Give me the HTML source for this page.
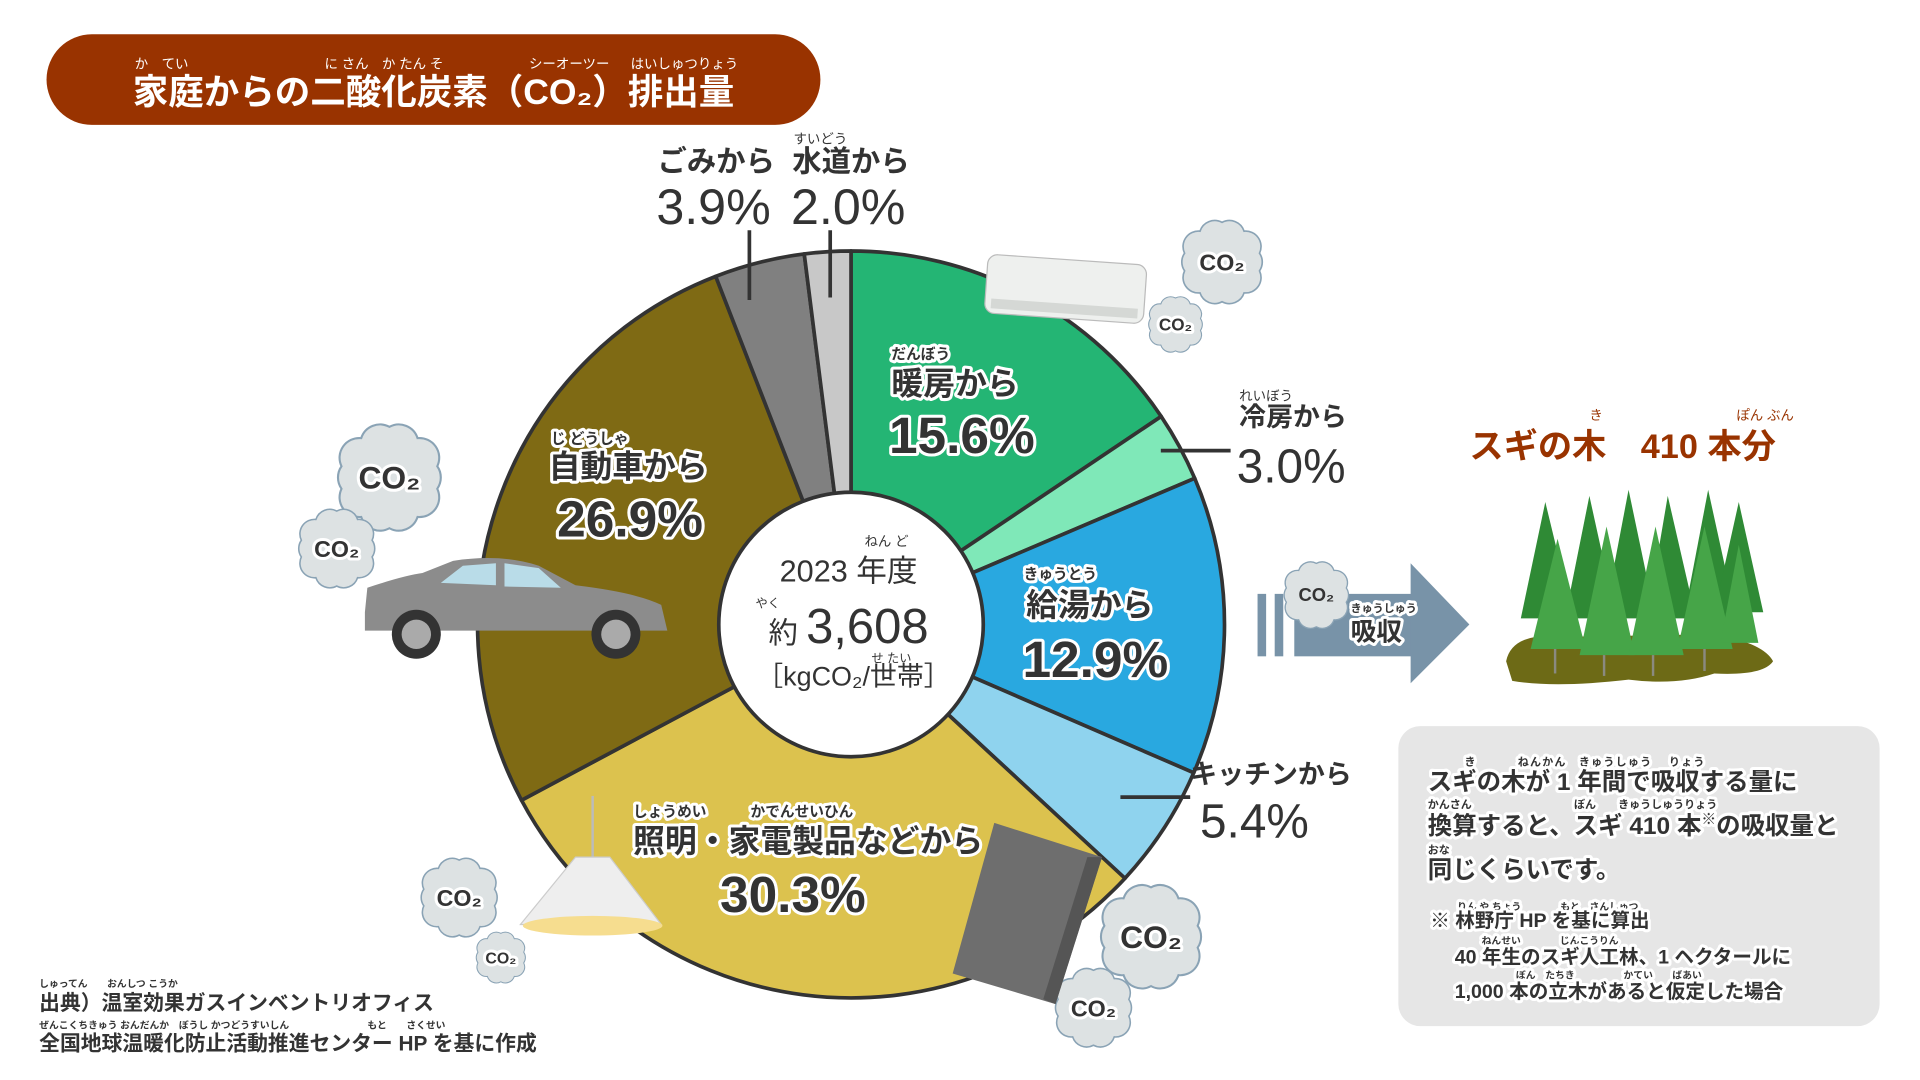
<!DOCTYPE html>
<html><head><meta charset="utf-8"><style>
html,body{margin:0;padding:0;background:#fff;}
svg{display:block;}
text{font-family:"Liberation Sans","Noto Sans CJK JP",sans-serif;}
.o{paint-order:stroke;stroke:#fff;stroke-width:5px;stroke-linejoin:round;}
</style></head><body>
<svg width="1920" height="1080" viewBox="0 0 1568 882" xmlns="http://www.w3.org/2000/svg">
<defs>
<g id="cl"><path d="M-20,-28 a14,14 0 0 1 20,-8 a14,14 0 0 1 20,8 a14,14 0 0 1 14,20 a14,14 0 0 1 0,16 a14,14 0 0 1 -14,20 a14,14 0 0 1 -20,8 a14,14 0 0 1 -20,-8 a14,14 0 0 1 -14,-20 a14,14 0 0 1 0,-16 a14,14 0 0 1 14,-20z" fill="#dde2e3" stroke="#8aa3b5" stroke-width="1.5"/></g>
</defs>
<!-- title -->
<rect x="38" y="28" width="632" height="74" rx="37" fill="#993300"/>
<g font-size="11" fill="#fff">
<text x="110" y="56">か　てい</text>
<text x="265" y="56">に さん　か たん そ</text>
<text x="432" y="56">シーオーツー</text>
<text x="515" y="56">はいしゅつりょう</text>
</g>
<text x="354" y="85" font-size="29" font-weight="bold" fill="#fff" text-anchor="middle">家庭からの二酸化炭素（CO₂）排出量</text>

<!-- pie -->
<g stroke="#333" stroke-width="3" stroke-linejoin="round">
<path d="M695,510 L695,205 A305,305 0 0 1 948.3,340.1Z" fill="#24b574"/>
<path d="M695,510 L948.3,340.1 A305,305 0 0 1 975.7,390.6Z" fill="#7fe8b8"/>
<path d="M695,510 L975.7,390.6 A305,305 0 0 1 974.9,631.1Z" fill="#29a8e0"/>
<path d="M695,510 L974.9,631.1 A305,305 0 0 1 918.7,717.3Z" fill="#8fd3ee"/>
<path d="M695,510 L918.7,717.3 A305,305 0 0 1 425.9,653.5Z" fill="#dcc24e"/>
<path d="M695,510 L425.9,653.5 A305,305 0 0 1 584.5,225.7Z" fill="#7f6a14"/>
<path d="M695,510 L584.5,225.7 A305,305 0 0 1 656.8,207.4Z" fill="#808080"/>
<path d="M695,510 L656.8,207.4 A305,305 0 0 1 695,205Z" fill="#c8c8c8"/>
<circle cx="695" cy="510" r="108" fill="#fff"/>
</g>

<!-- leader lines -->
<g stroke="#333" stroke-width="3">
<line x1="612" y1="188" x2="612" y2="245"/><line x1="678" y1="188" x2="678" y2="243"/>
<line x1="948" y1="368" x2="1005" y2="368"/><line x1="915" y1="651" x2="972" y2="651"/>
</g>

<!-- clouds -->
<g>
<use href="#cl" transform="translate(318,390) scale(1.15)"/>
<use href="#cl" transform="translate(275,448) scale(0.85)"/>
<use href="#cl" transform="translate(998,214) scale(0.9)"/>
<use href="#cl" transform="translate(960,265) scale(0.6)"/>
<use href="#cl" transform="translate(375,733) scale(0.85)"/>
<use href="#cl" transform="translate(409,782) scale(0.55)"/>
<use href="#cl" transform="translate(940,765) scale(1.12)"/>
<use href="#cl" transform="translate(893,823) scale(0.85)"/>
</g>
<g font-weight="bold" fill="#333" text-anchor="middle" class="o">
<text x="318" y="399" font-size="26">CO₂</text><text x="275" y="455" font-size="19">CO₂</text>
<text x="998" y="221" font-size="19">CO₂</text><text x="960" y="270" font-size="14">CO₂</text>
<text x="375" y="740" font-size="19">CO₂</text><text x="409" y="787" font-size="13">CO₂</text>
<text x="940" y="774" font-size="26">CO₂</text><text x="893" y="830" font-size="19">CO₂</text>
</g>

<!-- AC -->
<g transform="rotate(4 870 240)"><rect x="805" y="212" width="130" height="48" rx="8" fill="#eef0ee" stroke="#bbb"/><rect x="810" y="248" width="120" height="8" fill="#d5d8d5"/></g>
<!-- car -->
<path d="M298,500 L300,480 Q330,470 345,468 L370,458 Q410,452 440,462 L470,478 Q520,484 540,494 L545,515 L298,515Z" fill="#8c8c8c"/>
<path d="M360,476 L378,462 L405,460 L405,478Z M412,460 L440,464 L458,480 L412,479Z" fill="#b9dce8"/>
<circle cx="340" cy="518" r="20" fill="#333"/><circle cx="340" cy="518" r="12" fill="#aaa"/>
<circle cx="503" cy="518" r="20" fill="#333"/><circle cx="503" cy="518" r="12" fill="#aaa"/>
<!-- lamp -->
<line x1="484" y1="650" x2="484" y2="700" stroke="#bbb" stroke-width="2"/>
<path d="M470,700 L498,700 L540,755 L425,755Z" fill="#eee" stroke="#ccc"/>
<ellipse cx="484" cy="756" rx="57" ry="8" fill="#f6dd8f"/>
<!-- fridge -->
<path d="M812,672 L900,700 L862,820 L778,795Z" fill="#6e6e6e"/>
<path d="M900,700 L862,820 L852,816 L888,700Z" fill="#555"/>

<!-- labels -->
<g fill="#333">
<text x="537" y="140" font-size="24" font-weight="bold">ごみから</text>
<text x="648" y="117" font-size="11">すいどう</text>
<text x="647" y="140" font-size="24" font-weight="bold">水道から</text>
<text x="536" y="183" font-size="41">3.9%</text>
<text x="646" y="183" font-size="41">2.0%</text>
<text x="1012" y="327" font-size="11">れいぼう</text>
<text x="1012" y="348" font-size="22" font-weight="bold">冷房から</text>
<text x="1010" y="394" font-size="39">3.0%</text>
<text x="972" y="640" font-size="22" font-weight="bold">キッチンから</text>
<text x="980" y="684" font-size="39">5.4%</text>
</g>
<g fill="#333" font-weight="bold" class="o">
<text x="728" y="293" font-size="12">だんぼう</text>
<text x="728" y="322" font-size="26">暖房から</text>
<text x="726" y="370" font-size="42">15.6%</text>
<text x="836" y="473" font-size="12">きゅうとう</text>
<text x="838" y="503" font-size="26">給湯から</text>
<text x="835" y="553" font-size="42">12.9%</text>
<text x="450" y="362" font-size="12">じ どうしゃ</text>
<text x="448" y="390" font-size="26">自動車から</text>
<text x="455" y="438" font-size="42">26.9%</text>
<text x="517" y="667" font-size="12">しょうめい　　　かでんせいひん</text>
<text x="517" y="696" font-size="26">照明・家電製品などから</text>
<text x="588" y="745" font-size="42">30.3%</text>
</g>
<g fill="#333" text-anchor="middle">
<text x="724" y="446" font-size="11">ねん ど</text>
<text x="693" y="475" font-size="25">2023 年度</text>
<text x="627" y="496" font-size="10">やく</text>
<text x="693" y="525" font-size="40"><tspan font-size="24">約 </tspan>3,608</text>
<text x="728" y="541" font-size="10">せ たい</text>
<text x="697" y="560" font-size="22">［kgCO₂/世帯］</text>
</g>

<!-- arrow -->
<g fill="#7893a8">
<rect x="1027" y="485" width="7" height="51"/><rect x="1041" y="485" width="7" height="51"/>
<rect x="1057" y="485" width="98" height="51"/><path d="M1152,460 L1200,510 L1152,558Z"/>
</g>
<use href="#cl" transform="translate(1075,486) scale(0.72)"/>
<text x="1075" y="491" font-size="15" font-weight="bold" fill="#333" text-anchor="middle">CO₂</text>
<g fill="#333" font-weight="bold" class="o">
<text x="1103" y="500" font-size="9">きゅうしゅう</text>
<text x="1103" y="523" font-size="21">吸収</text>
</g>

<!-- trees -->
<path d="M1230,540 Q1235,515 1280,520 L1400,518 Q1440,525 1448,540 Q1440,552 1400,550 Q1370,560 1330,555 Q1270,562 1235,556Z" fill="#6d6a16"/>
<g fill="#2f8a35">
<path d="M1242,505 L1262,410 L1285,505Z"/><path d="M1278,505 L1298,405 L1320,505Z"/>
<path d="M1310,505 L1330,400 L1352,505Z"/><path d="M1345,505 L1362,405 L1385,505Z"/>
<path d="M1375,505 L1395,400 L1418,505Z"/><path d="M1400,500 L1420,410 L1440,500Z"/>
</g>
<g fill="#46a548">
<path d="M1250,530 L1272,440 L1295,530Z"/><path d="M1290,535 L1312,430 L1335,535Z"/>
<path d="M1330,535 L1352,430 L1375,535Z"/><path d="M1370,530 L1392,430 L1415,530Z"/>
<path d="M1405,525 L1420,445 L1436,525Z"/>
</g>
<g stroke="#8a8a80" stroke-width="2">
<line x1="1270" y1="530" x2="1270" y2="550"/><line x1="1310" y1="535" x2="1310" y2="552"/>
<line x1="1350" y1="535" x2="1350" y2="552"/><line x1="1392" y1="530" x2="1392" y2="548"/>
</g>
<text x="1298" y="343" font-size="11" fill="#993300">き</text>
<text x="1418" y="343" font-size="11" fill="#993300">ぽん ぶん</text>
<text x="1200" y="374" font-size="28" font-weight="bold" fill="#993300">スギの木　410 本分</text>

<!-- box -->
<rect x="1142" y="593" width="393" height="245" rx="18" fill="#e6e6e6"/>
<g fill="#333" font-weight="bold" class="o">
<text x="1166" y="625" font-size="9" letter-spacing="1">　　　き　　　 ねんかん　きゅうしゅう　 りょう</text>
<text x="1166" y="645" font-size="20">スギの木が 1 年間で吸収する量に</text>
<text x="1166" y="660" font-size="9">かんさん　　　　　　　　　 ぼん　　きゅうしゅうりょう</text>
<text x="1166" y="681" font-size="20">換算すると、スギ 410 本<tspan font-size="12" dy="-8">※</tspan><tspan dy="8">の吸収量と</tspan></text>
<text x="1166" y="697" font-size="9">おな</text>
<text x="1166" y="717" font-size="20">同じくらいです。</text>
<text x="1190" y="743" font-size="8">りん や ちょう　　　　もと　さんしゅつ</text>
<text x="1168" y="757" font-size="16">※ 林野庁 HP を基に算出</text>
<text x="1210" y="771" font-size="8">ねんせい　　　　じんこうりん</text>
<text x="1188" y="787" font-size="16">40 年生のスギ人工林、1 ヘクタールに</text>
<text x="1238" y="799" font-size="8">ぼん　たちき　　　　　かてい　　ばあい</text>
<text x="1188" y="815" font-size="16">1,000 本の立木があると仮定した場合</text>
</g>

<!-- source -->
<g fill="#333" font-weight="bold">
<text x="32" y="806" font-size="8">しゅってん　　おんしつ こうか</text>
<text x="32" y="825" font-size="17">出典）温室効果ガスインベントリオフィス</text>
<text x="32" y="840" font-size="8">ぜんこくちきゅう おんだんか　ぼうし かつどうすいしん　　　　　　　　もと　　さくせい</text>
<text x="32" y="858" font-size="17">全国地球温暖化防止活動推進センター HP を基に作成</text>
</g>
</svg>
</body></html>
